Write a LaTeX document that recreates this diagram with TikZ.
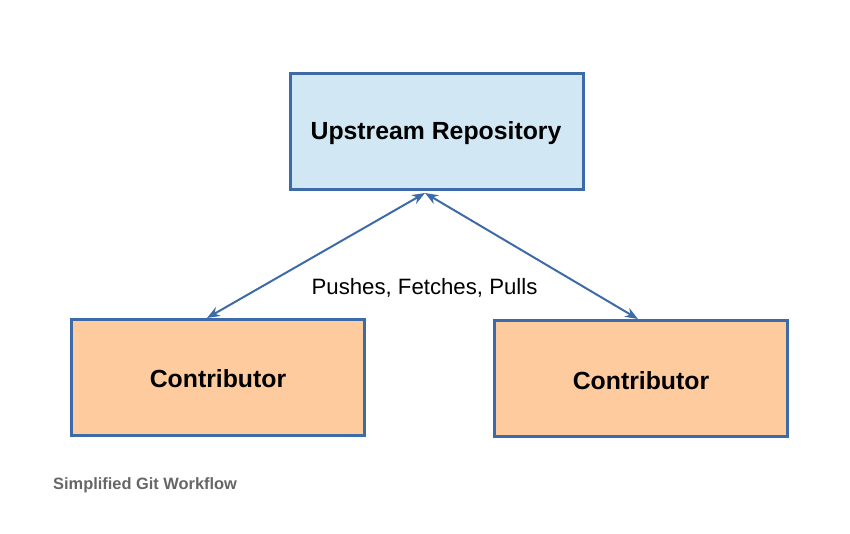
\documentclass[tikz,border=0pt]{standalone}
\usepackage{fontspec}
\setmainfont{Liberation Sans}
\usetikzlibrary{arrows.meta}
\definecolor{edgeblue}{HTML}{3D6BA8}
\definecolor{topfill}{HTML}{D2E7F4}
\definecolor{contribfill}{HTML}{FDCB9E}
\definecolor{capgray}{HTML}{666666}
\tikzset{
  box/.style={draw=edgeblue, line width=3pt, minimum width=293pt, minimum height=116pt, inner sep=0pt, font=\fontsize{24.8}{29}\selectfont\bfseries},
  link/.style={draw=edgeblue, line width=2pt, {Stealth[length=13pt,width=10pt]}-{Stealth[length=13pt,width=10pt]}}
}
\begin{document}
\begin{tikzpicture}[x=1pt,y=-1pt]
\useasboundingbox (0,0) rectangle (850,533);
\node[box, fill=topfill] (up) at (436.5,131) {};
\node[box, fill=contribfill] (c1) at (217.5,377) {};
\node[box, fill=contribfill] (c2) at (641,378) {};
\node[font=\fontsize{24.8}{29}\selectfont\bfseries] (upt) at (436,133) {Upstream Repository};
\node[font=\fontsize{24.8}{29}\selectfont\bfseries] (c1t) at (218,379) {Contributor};
\node[font=\fontsize{24.8}{29}\selectfont\bfseries] (c2t) at (641,381) {Contributor};
\coordinate (tip) at (425,193);
\coordinate (l1) at (207,318);
\coordinate (r1) at (638,319);
\draw[link] (l1) -- (tip);
\draw[link] (tip) -- (r1);
\node[font=\fontsize{22.2}{26}\selectfont] (lab) at (424.5,287.5) {Pushes, Fetches, Pulls};
\node[font=\fontsize{16.4}{19}\selectfont\bfseries, text=capgray, anchor=west, inner sep=0pt] (cap) at (53,485.5) {Simplified Git Workflow};
\end{tikzpicture}
\end{document}
